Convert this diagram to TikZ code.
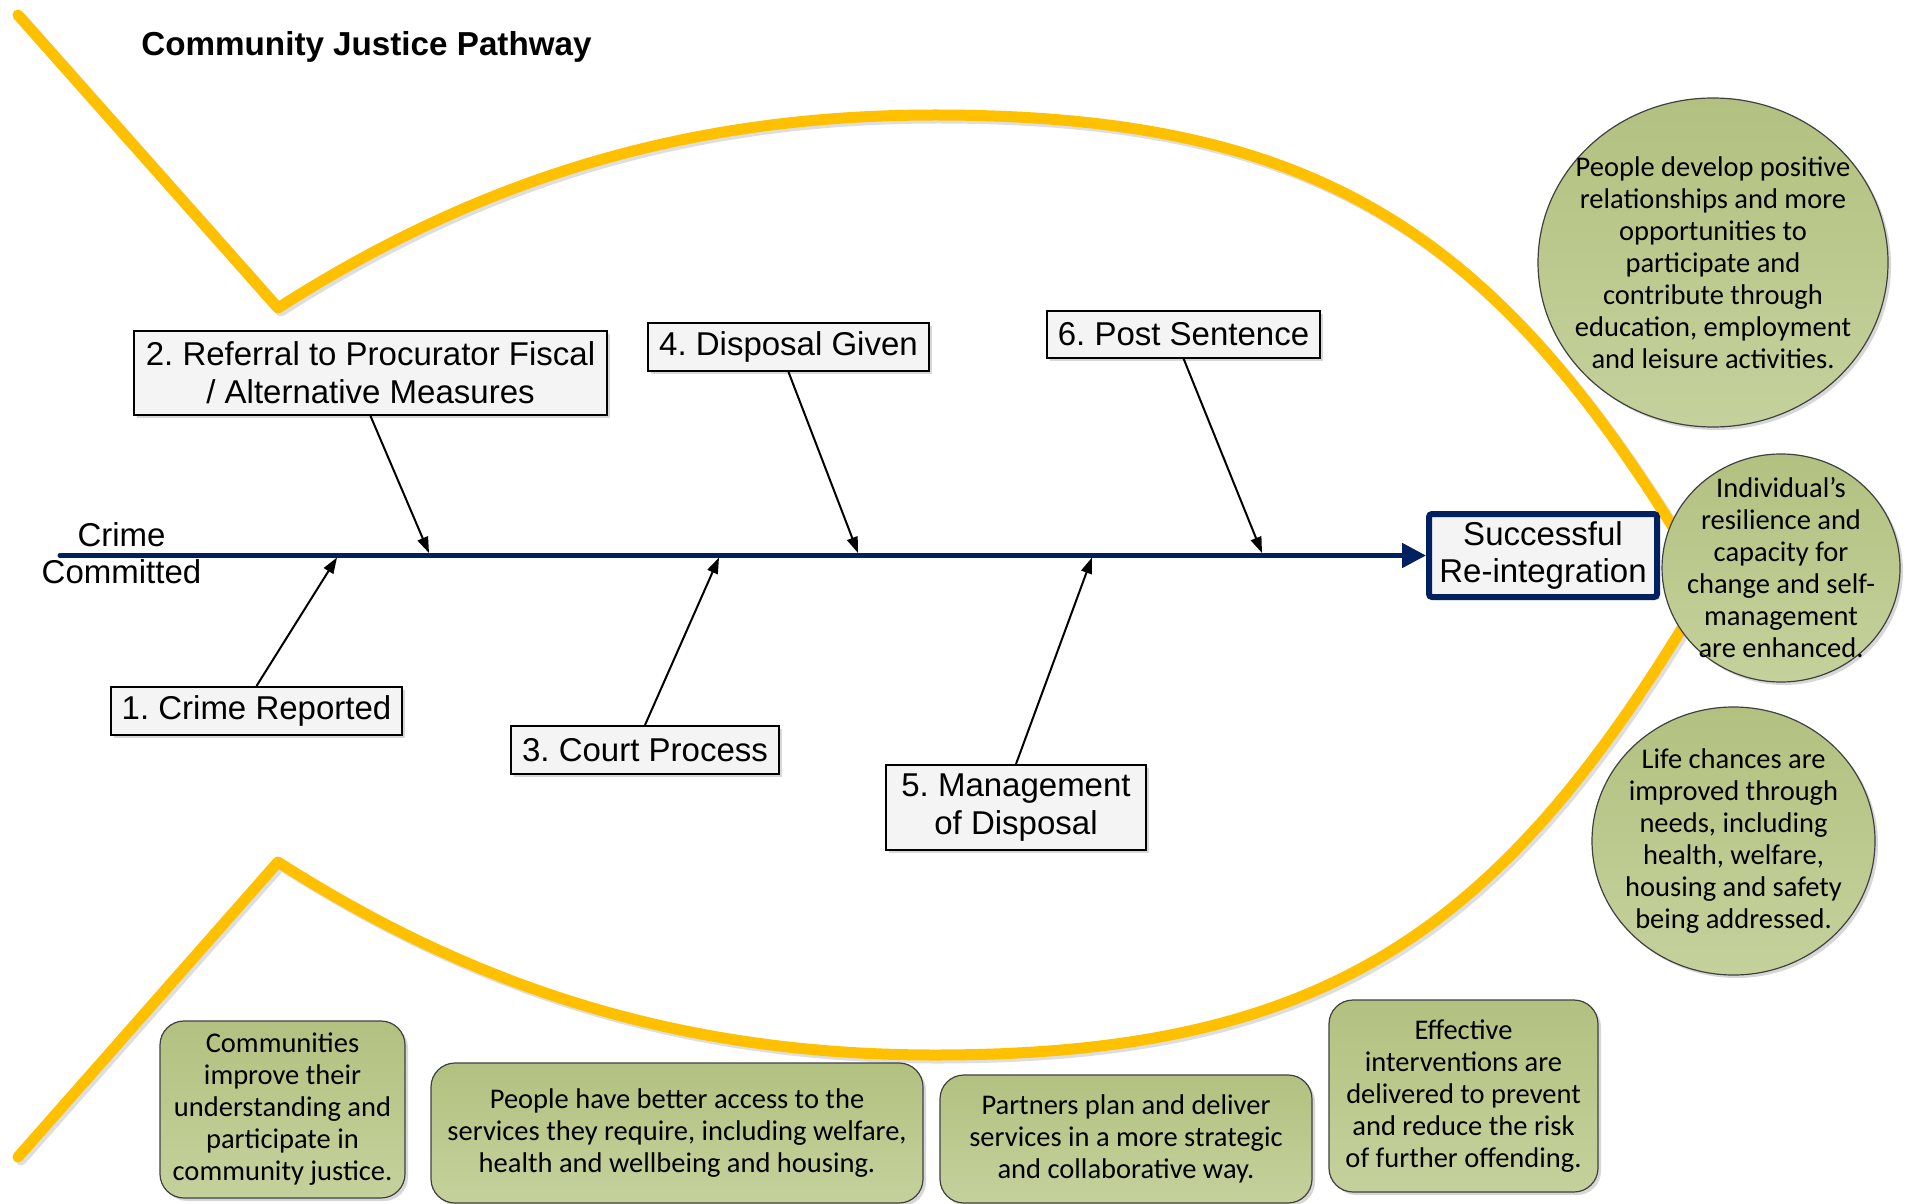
\documentclass[tikz,border=0pt]{standalone}
\usepackage{fontspec}
\setmainfont{Liberation Sans}
\newfontfamily\calfont{Carlito}
\usetikzlibrary{arrows.meta,shapes.geometric,shadows}
\definecolor{fishgold}{RGB}{255,192,0}
\definecolor{spinenavy}{RGB}{0,32,96}
\definecolor{olivetop}{RGB}{178,193,128}
\definecolor{olivebot}{RGB}{197,209,156}
\definecolor{boxgrey}{RGB}{244,244,244}
\frenchspacing
\newcommand\fishoutline[1]{%
  \draw[#1] (18,15) -- (278,308) .. controls (478,180) and (685,115) .. (935,115) .. controls (1335,115) and (1508,245) .. (1708,585);
  \draw[#1] (18,1157) -- (278,862) .. controls (478,990) and (685,1055) .. (935,1055) .. controls (1335,1055) and (1508,925) .. (1708,585);}
\begin{document}
\begin{tikzpicture}[x=0.5pt,y=-0.5pt,
  fishline/.style={draw=fishgold,line width=5.5pt,line cap=round,line join=round},
  fishshade/.style={draw=black!13,line width=5.5pt,line cap=round,line join=round,shift={(1.5pt,-1.5pt)}},
  softshadow/.style={drop shadow={shadow xshift=1.5pt,shadow yshift=-1.5pt,opacity=0.22,fill=black!70}},
  stagebox/.style={draw=black,line width=1pt,fill=boxgrey,inner sep=0pt,align=center,
    font=\fontsize{16.5}{19}\selectfont,softshadow},
  goalbox/.style={draw=black!75,line width=0.6pt,top color=olivetop,bottom color=olivebot,
    rounded corners=12pt,inner sep=0pt,align=center,font=\calfont\fontsize{14.25}{16}\selectfont,softshadow},
  goalcircle/.style={draw=black!75,line width=0.6pt,ellipse,top color=olivetop,bottom color=olivebot,inner sep=0pt,softshadow},
  goaltext/.style={align=center,inner sep=0pt,font=\calfont\fontsize{14.25}{16}\selectfont},
  feed/.style={draw=black,line width=1pt,-{Triangle[length=8pt,width=5.5pt]}},
  spine/.style={draw=spinenavy,line width=2.5pt,line cap=round,-{Triangle[length=12pt,width=12pt]}}]
\useasboundingbox (0,0) rectangle (1914,1203);
\fill[white] (0,0) rectangle (1914,1203);
\fishoutline{fishshade}
\fishoutline{fishline}
\node[anchor=base,font=\bfseries\fontsize{16.6}{19}\selectfont] (title) at (366.5,56) {Community Justice Pathway};
% goal box and spine
\node[draw=spinenavy,line width=3pt,fill=boxgrey,rounded corners=1.5pt,minimum width=114pt,minimum height=41.5pt,inner sep=0pt,align=center,font=\fontsize{16.5}{18.5}\selectfont,softshadow] (goal) at (1543,555.5) {Successful\\Re-integration};
\coordinate (start) at (60,555.5);
\draw[spine] (start) -- (goal.west);
\node[align=center,inner sep=0pt,font=\fontsize{16.5}{18.5}\selectfont] (crime) at (121.5,553.5) {Crime\\Committed};
% stages
\node[stagebox,minimum width=145.5pt,minimum height=24pt] (s1) at (256.5,711) {1. Crime Reported};
\node[stagebox,minimum width=236.5pt,minimum height=42pt] (s2) at (370.5,373) {2. Referral to Procurator Fiscal\\/ Alternative Measures};
\node[stagebox,minimum width=134pt,minimum height=24pt] (s3) at (645,750) {3. Court Process};
\node[stagebox,minimum width=140.5pt,minimum height=24pt] (s4) at (788.5,347) {4. Disposal Given};
\node[stagebox,minimum width=130pt,minimum height=42.5pt] (s5) at (1016,807.5) {5. Management\\of Disposal};
\node[stagebox,minimum width=136.5pt,minimum height=23pt] (s6) at (1183.5,334.5) {6. Post Sentence};
\coordinate (t1) at (337,557.5);
\coordinate (t2) at (429,553);
\coordinate (t3) at (719,557.5);
\coordinate (t4) at (858,553);
\coordinate (t5) at (1092,557.5);
\coordinate (t6) at (1262,553);
\draw[feed] (s1.north) -- (t1);
\draw[feed] (s2.south) -- (t2);
\draw[feed] (s3.north) -- (t3);
\draw[feed] (s4.south) -- (t4);
\draw[feed] (s5.north) -- (t5);
\draw[feed] (s6.south) -- (t6);
% outcome circles
\node[goalcircle,minimum width=175pt,minimum height=164.5pt] (c1) at (1713,262.5) {};
\node[goaltext] (c1t) at (1713,263) {People develop positive\\relationships and more\\opportunities to\\participate and\\contribute through\\education, employment\\and leisure activities.};
\node[goalcircle,minimum width=119pt,minimum height=114pt] (c2) at (1781,568) {};
\node[goaltext] (c2t) at (1781,568) {Individual’s\\resilience and\\capacity for\\change and self-\\management\\are enhanced.};
\node[goalcircle,minimum width=141.5pt,minimum height=134pt] (c3) at (1733.5,841) {};
\node[goaltext] (c3t) at (1733.5,841.5) {Life chances are\\improved through\\needs, including\\health, welfare,\\housing and safety\\being addressed.};
% outcome boxes
\node[goalbox,minimum width=122.5pt,minimum height=88.5pt] (g1) at (282.5,1109.5) {Communities\\improve their\\understanding and\\participate in\\community justice.};
\node[goalbox,minimum width=246pt,minimum height=70pt] (g2) at (677,1133) {People have better access to the\\services they require, including welfare,\\health and wellbeing and housing.};
\node[goalbox,minimum width=186pt,minimum height=64pt] (g3) at (1126,1139) {Partners plan and deliver\\services in a more strategic\\and collaborative way.};
\node[goalbox,minimum width=134.5pt,minimum height=96pt] (g4) at (1463.5,1096) {Effective\\interventions are\\delivered to prevent\\and reduce the risk\\of further offending.};
\end{tikzpicture}
\end{document}
